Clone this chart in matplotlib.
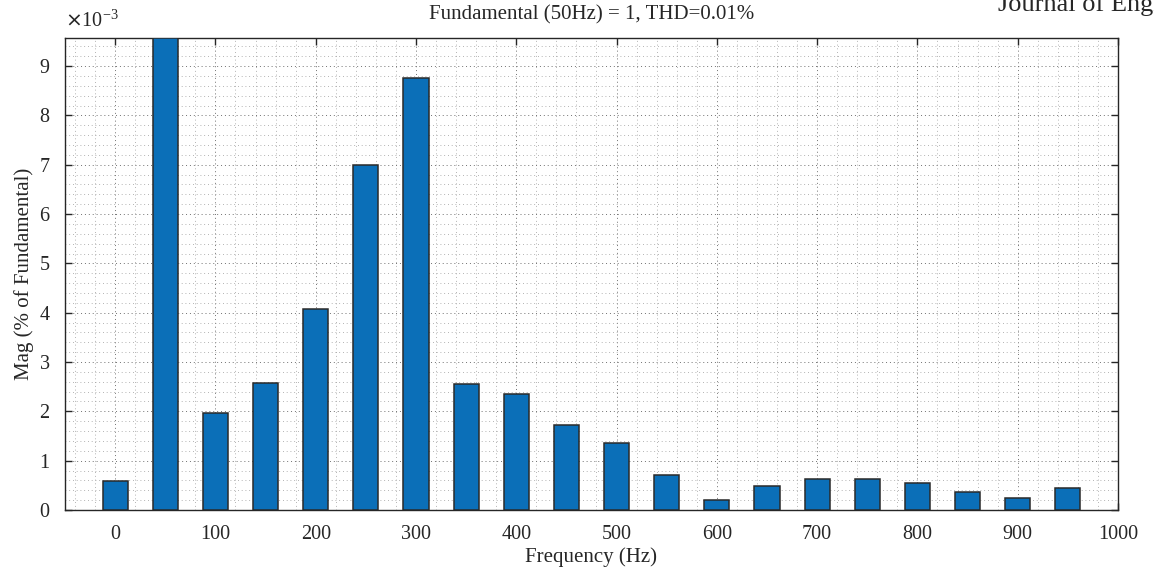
import numpy as np
import matplotlib
matplotlib.use("Agg")
import matplotlib.pyplot as plt
from matplotlib.ticker import MultipleLocator

# Данные гармоник (значения в единицах 1e-3)
freqs = [0, 50, 100, 150, 200, 250, 300, 350, 400, 450,
         500, 550, 600, 650, 700, 750, 800, 850, 900, 950]
mags = [0.59, 9.57, 1.97, 2.58, 4.07, 7.00, 8.75, 2.55, 2.35, 1.73,
        1.35, 0.71, 0.20, 0.49, 0.63, 0.63, 0.54, 0.36, 0.24, 0.45]
xticks = [0, 100, 200, 300, 400, 500, 600, 700, 800, 900, 1000]
yticks = [0, 1, 2, 3, 4, 5, 6, 7, 8, 9]

plt.rcParams['font.family'] = ['Liberation Serif', 'DejaVu Serif']
txt = '#262626'

fig = plt.figure(figsize=(11.54, 5.72), dpi=100)
ax = fig.add_axes([0.0563, 0.1084, 0.9125, 0.8252])

ax.bar(freqs, mags, width=25, color='#0B6FB8', edgecolor='#2a2a2a',
       linewidth=1.1, zorder=3)

ax.set_xlim(-50, 1000)
ax.set_ylim(0, 9.57)
ax.set_xticks(xticks)
ax.set_yticks(yticks)
ax.xaxis.set_minor_locator(MultipleLocator(20))
ax.yaxis.set_minor_locator(MultipleLocator(0.2))

# сетка major + minor редкими точками
ax.grid(True, which='major', linestyle=(0, (1, 3)), color='#707070', linewidth=0.7, zorder=0)
ax.grid(True, which='minor', linestyle=(0, (1, 3.5)), color='#9a9a9a', linewidth=0.6, zorder=0)

ax.tick_params(which='major', direction='in', length=5, width=1,
               top=True, right=True, labelsize=14.5, colors=txt, pad=11)
ax.tick_params(which='minor', length=0, top=True, right=True)
for s in ax.spines.values():
    s.set_linewidth(1.0)
    s.set_color('#262626')

ax.set_xlabel('Frequency (Hz)', fontsize=15, color=txt, labelpad=2.5)
ax.set_ylabel('Mag (% of Fundamental)', fontsize=15, color=txt, labelpad=4)
ax.set_title('Fundamental (50Hz) = 1, THD=0.01%', fontsize=15, color=txt, pad=13)

fig.text(0.0563, 0.953, r'$\times$10$^{\mathregular{-3}}$', fontsize=14.5, color=txt)
fig.text(0.865, 0.981, 'Journal of Engineering', fontsize=19, color=txt, va='baseline')

fig.savefig('out.png', dpi=100)
